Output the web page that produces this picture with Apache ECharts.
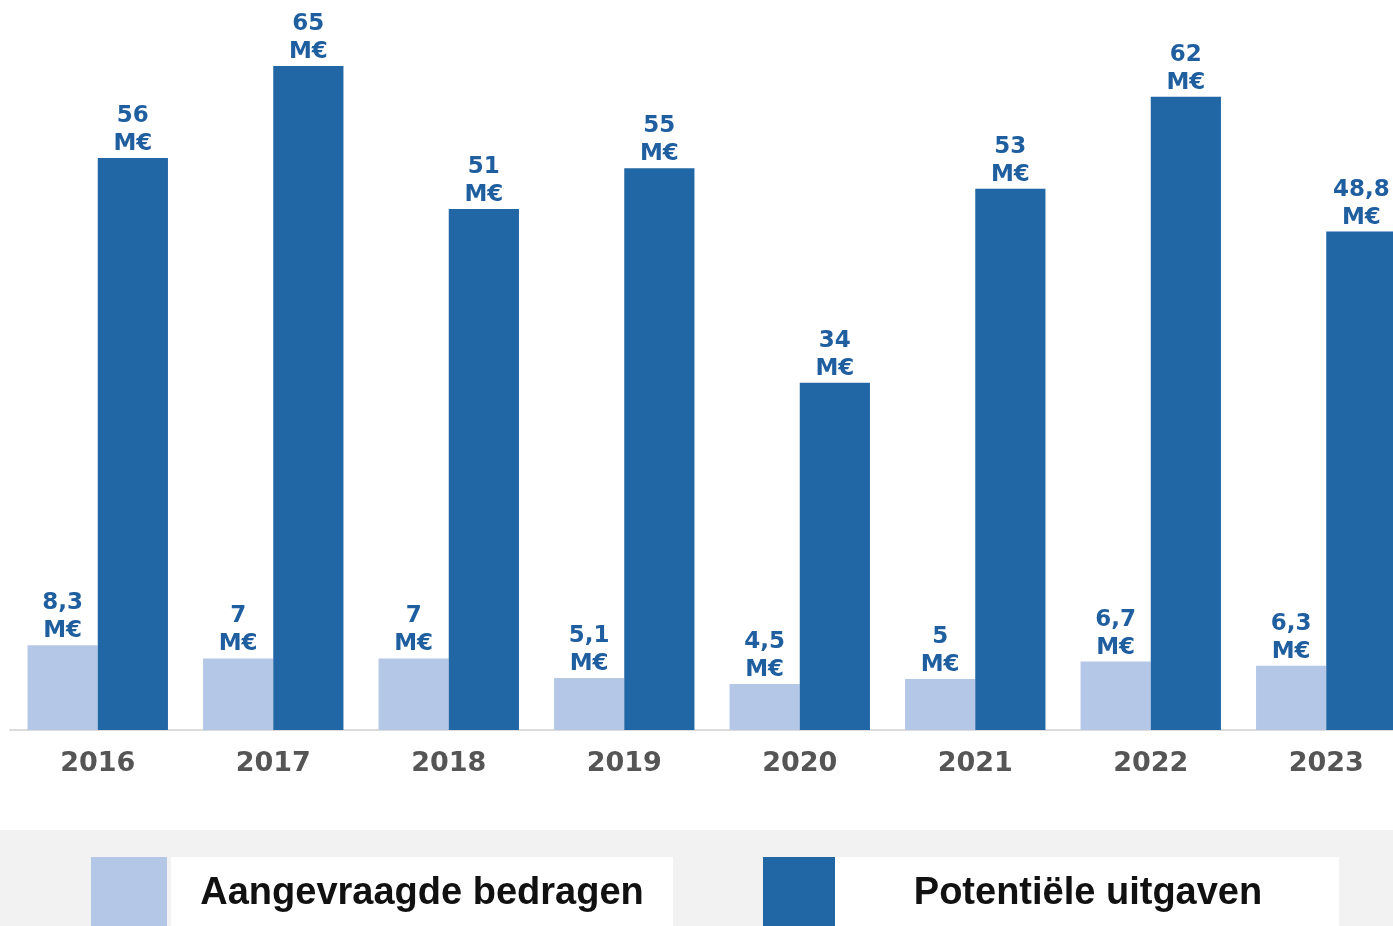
<!DOCTYPE html>
<html>
<head>
<meta charset="utf-8">
<script src="https://cdn.jsdelivr.net/npm/echarts@6/dist/echarts.min.js"></script>
<style>
  html, body { margin: 0; padding: 0; background: #fff; }
  #main { width: 1393px; height: 926px; }
</style>
</head>
<body>
<div id="main"></div>
<script>
// jaren
var years = ['2016', '2017', '2018', '2019', '2020', '2021', '2022', '2023'];
// aangevraagde bedragen (M€)
var requested = [8.3, 7, 7, 5.1, 4.5, 5, 6.7, 6.3];
// potentiële uitgaven (M€)
var potential = [56, 65, 51, 55, 34, 53, 62, 48.8];

var lightBlue = '#b4c7e7';
var darkBlue = '#2166a5';

var myChart = echarts.init(document.getElementById('main'));

var seriesLabel = {
    show: true,
    position: 'top',
    distance: 0,
    color: '#1f5fa0',
    fontFamily: 'DejaVu Sans',
    fontWeight: 'bold',
    fontSize: 23,
    lineHeight: 28,
    formatter: function (p) {
        return String(p.value).replace('.', ',') + '\nM€';
    }
};

var option = {
    animation: false,
    grid: {
        left: 10,
        width: 1404,
        top: 15,
        bottom: 196,
        outerBoundsMode: 'none',
        containLabel: false
    },
    xAxis: {
        type: 'category',
        data: years,
        axisLine: { lineStyle: { color: '#dcdcdc', width: 2 } },
        axisTick: { show: false },
        axisLabel: {
            margin: 20,
            color: '#555',
            fontFamily: 'DejaVu Sans',
            fontWeight: 'bold',
            fontSize: 27
        }
    },
    yAxis: {
        type: 'value',
        min: 0,
        max: 70,
        show: false
    },
    series: [
        {
            name: 'Aangevraagde bedragen',
            type: 'bar',
            data: requested,
            barGap: '0%',
            barCategoryGap: '20%',
            itemStyle: { color: lightBlue },
            label: seriesLabel
        },
        {
            name: 'Potentiële uitgaven',
            type: 'bar',
            data: potential,
            itemStyle: { color: darkBlue },
            label: seriesLabel
        }
    ],
    graphic: [
        // legendbalk
        { type: 'rect', shape: { x: 0, y: 830, width: 1393, height: 96 }, style: { fill: '#f2f2f2' } },
        { type: 'rect', shape: { x: 91, y: 857, width: 76, height: 69 }, style: { fill: lightBlue } },
        { type: 'rect', shape: { x: 171, y: 857, width: 502, height: 69 }, style: { fill: '#fff' } },
        {
            type: 'text', x: 422, y: 894,
            style: {
                text: 'Aangevraagde bedragen', fill: '#111',
                font: 'bold 38px "Liberation Sans"', textAlign: 'center', textVerticalAlign: 'middle'
            }
        },
        { type: 'rect', shape: { x: 763, y: 857, width: 72, height: 69 }, style: { fill: darkBlue } },
        { type: 'rect', shape: { x: 835, y: 857, width: 504, height: 69 }, style: { fill: '#fff' } },
        {
            type: 'text', x: 1088, y: 894,
            style: {
                text: 'Potentiële uitgaven', fill: '#111',
                font: 'bold 38px "Liberation Sans"', textAlign: 'center', textVerticalAlign: 'middle'
            }
        }
    ]
};

myChart.setOption(option);
</script>
</body>
</html>
